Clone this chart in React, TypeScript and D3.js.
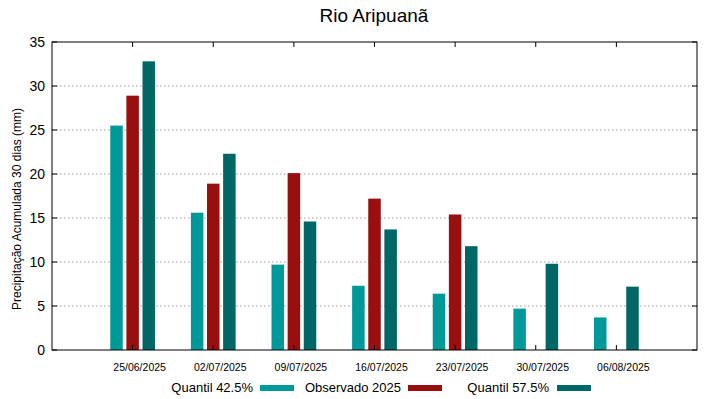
import * as d3 from "d3"

const title = "Rio Aripuanã"
const yLabel = "Precipitação Acumulada 30 dias (mm)"
const dates = ["25/06/2025", "02/07/2025", "09/07/2025", "16/07/2025", "23/07/2025", "30/07/2025", "06/08/2025"]
const q425 = [25.5, 15.6, 9.7, 7.3, 6.4, 4.7, 3.7]
const observed: (number | null)[] = [28.9, 18.9, 20.1, 17.2, 15.4, null, null]
const q575 = [32.8, 22.3, 14.6, 13.7, 11.8, 9.8, 7.2]
const yTicks = [0, 5, 10, 15, 20, 25, 30, 35]

const series = [
  { name: "Quantil 42.5%", values: q425, color: "#009999", offset: -0.2 },
  { name: "Observado 2025", values: observed, color: "#990f0f", offset: 0 },
  { name: "Quantil 57.5%", values: q575, color: "#006666", offset: 0.2 },
]

const W = 719
const H = 399
const margin = { left: 52, right: 22, top: 42, bottom: 49 }
const font = "'Liberation Sans', Arial, sans-serif"

export default function App() {
  const x = d3.scaleLinear().domain([-1, 7]).range([margin.left, W - margin.right])
  const y = d3.scaleLinear().domain([0, 35]).range([H - margin.bottom, margin.top])
  const barW = x(0.155) - x(0)
  const x0 = margin.left
  const x1 = W - margin.right
  const y0 = H - margin.bottom
  const y1 = margin.top

  // legend: text right edge and sample start
  const legend = [
    { textEnd: 253, lineX: 260 },
    { textEnd: 401, lineX: 408 },
    { textEnd: 549, lineX: 557 },
  ]

  return (
    <svg width={W} height={H} style={{ position: "absolute", left: 0, top: 0, background: "#fff" }} fontFamily={font}>
      <rect width={W} height={H} fill="#fff" />
      <text x={374} y={22} textAnchor="middle" fontSize={19}>{title}</text>

      {/* grid */}
      {yTicks.filter((t) => t > 0 && t < 35).map((t) => (
        <line key={t} x1={x0} x2={x1} y1={y(t)} y2={y(t)} stroke="#999" strokeWidth={1} strokeDasharray="1.5,2.5" />
      ))}

      {/* bars */}
      {series.map((s) =>
        s.values.map((v, i) =>
          v == null ? null : (
            <rect
              key={s.name + i}
              x={x(i + s.offset) - barW / 2}
              y={y(v)}
              width={barW}
              height={y(0) - y(v)}
              fill={s.color}
            />
          )
        )
      )}

      {/* ticks */}
      {yTicks.map((t) => (
        <g key={"yt" + t}>
          <line x1={x0} x2={x0 + 5} y1={y(t)} y2={y(t)} stroke="#000" />
          <line x1={x1} x2={x1 - 5} y1={y(t)} y2={y(t)} stroke="#000" />
          <text x={x0 - 7} y={y(t) + 5} textAnchor="end" fontSize={14}>{t}</text>
        </g>
      ))}
      {dates.map((d, i) => (
        <g key={d}>
          <line x1={x(i)} x2={x(i)} y1={y0} y2={y0 - 5} stroke="#000" />
          <line x1={x(i)} x2={x(i)} y1={y1} y2={y1 + 5} stroke="#000" />
          <text x={x(i) + 7} y={371} textAnchor="middle" fontSize={10.5}>{d}</text>
        </g>
      ))}

      <rect x={x0} y={y1} width={x1 - x0} height={y0 - y1} fill="none" stroke="#000" strokeWidth={1} />

      <text transform={`translate(21,209) rotate(-90)`} textAnchor="middle" fontSize={12}>{yLabel}</text>

      {/* legend */}
      {series.map((s, i) => (
        <g key={"lg" + s.name}>
          <text x={legend[i].textEnd} y={392} textAnchor="end" fontSize={13}>{s.name}</text>
          <line x1={legend[i].lineX} x2={legend[i].lineX + 34} y1={388} y2={388} stroke={s.color} strokeWidth={6} />
        </g>
      ))}
    </svg>
  )
}
